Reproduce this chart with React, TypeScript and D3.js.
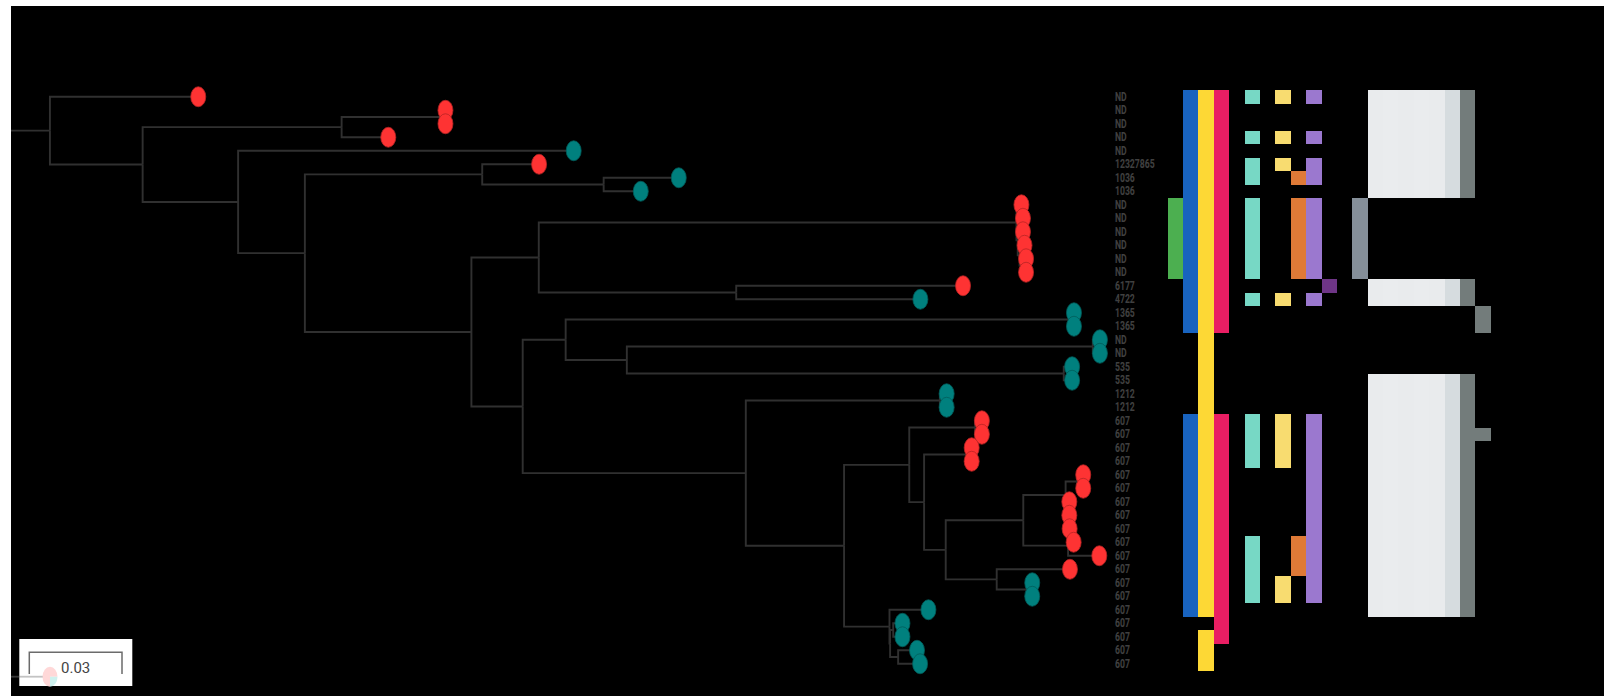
import React, { useMemo } from "react";
import * as d3 from "d3";

// Phylogeny with branch lengths (substitutions per site); leaves t0..t42 are row indices.
const newick =
  "(t0:0.0480,(((t1:0.0018,t2:0.0018):0.0318,t3:0.0151):0.0644," +
  "(t4:0.1086,((t5:0.0184,(t6:0.0243,t7:0.0120):0.0393):0.0574," +
  "(((t8:0.0016,((t9:0.0014,t10:0.0014):0.0003,(t11:0.0016,(t12:0.0015,t13:0.0015):0.0006):0.0006):0.0004):0.1546," +
  "(t14:0.0734,t15:0.0596):0.0639):0.0218," +
  "(((t16:0.0013,t17:0.0013):0.1632,((t18:0.0023,t19:0.0023):0.1508,(t20:0.0027,t21:0.0027):0.1414):0.0198):0.0139," +
  "((t22:0.0022,t23:0.0022):0.0628," +
  "(((t24:0.0022,t25:0.0022):0.0213,((t26:0.0016,t27:0.0016):0.0138," +
  "((((t28:0.0020,t29:0.0020):0.0037,(t30:0.0009,t31:0.0009):0.0003):0.0137,((t32:0.0003,t33:0.0016):0.0002,t34:0.0101):0.0145):0.0251," +
  "(t35:0.0237,(t36:0.0018,t37:0.0018):0.0097):0.0165):0.0070):0.0048):0.0211," +
  "(t38:0.0126,((t39:0.0030,t40:0.0030):0.0010,(t41:0.0061,t42:0.0071):0.0026):0.0002):0.0147):0.0318):0.0722):0.0166):0.0539):0.0216):0.0309):0.0300):0.0126;";

// Tip labels, top to bottom
const tipLabels = [
  "ND", "ND", "ND", "ND", "ND", "12327865", "1036", "1036",
  "ND", "ND", "ND", "ND", "ND", "ND", "6177", "4722", "1365", "1365",
  "ND", "ND", "535", "535", "1212", "1212",
  "607", "607", "607", "607", "607", "607", "607", "607", "607", "607",
  "607", "607", "607", "607", "607", "607", "607", "607", "607",
];

// Tip group (0 = red group, 1 = teal group)
const tipGroup = [
  0, 0, 0, 0, 1, 0, 1, 1,
  0, 0, 0, 0, 0, 0, 0, 1, 1, 1,
  1, 1, 1, 1, 1, 1,
  0, 0, 0, 0, 0, 0, 0, 0, 0, 0,
  0, 0, 1, 1, 1, 1, 1, 1, 1,
];

// Heatmap columns and the rows where each trait is present
const heatColumns = [
  "c0", "c1", "c2", "c3", "c4", "c5", "c6", "c7", "c8", "c9", "c10",
  "c11", "c12", "c13", "c14", "c15", "c16", "c17", "c18", "c19", "c20",
];
const heatPresence = [
  "8-13",
  "0-17,24-38",
  "0-38,40-42",
  "0-17,24-40",
  "",
  "0,3,5-6,8-13,15,24-27,33-37",
  "",
  "0,3,5,15,24-27,36-37",
  "6,8-13,33-35",
  "0,3,5-6,8-13,15,24-37",
  "14",
  "",
  "8-13",
  "0-7,14-15,21-38",
  "0-7,14-15,21-38",
  "0-7,14-15,21-38",
  "0-7,14-15,21-38",
  "0-7,14-15,21-38",
  "0-7,14-15,21-38",
  "0-7,14-15,21-38",
  "16-17,25",
];
const heatColors = [
  "#4caf50", "#1863bf", "#fdd835", "#e91e63", "#000000", "#77d8c5", "#000000",
  "#f8dc70", "#df7a37", "#9b78cf", "#6e3586", "#000000", "#858f99",
  "#e9ebed", "#eaecee", "#e9ebed", "#eaecee", "#e9ebed", "#d6dcdf", "#737c7b", "#737c7b",
];

const groupColors = ["#fe3333", "#00807e"];
const scaleBarValue = 0.03;

type TreeNode = { name: string; length: number; children: TreeNode[] };

function parseNewick(src: string): TreeNode {
  const s = src.replace(/\s+/g, "");
  let i = 0;
  const node = (): TreeNode => {
    const n: TreeNode = { name: "", length: 0, children: [] };
    if (s[i] === "(") {
      i++;
      n.children.push(node());
      while (s[i] === ",") {
        i++;
        n.children.push(node());
      }
      i++;
    }
    let name = "";
    while (i < s.length && !",():;".includes(s[i])) name += s[i++];
    n.name = name;
    if (s[i] === ":") {
      i++;
      let num = "";
      while (i < s.length && !",();".includes(s[i])) num += s[i++];
      n.length = +num;
    }
    return n;
  };
  return node();
}

function parseRows(spec: string): Set<number> {
  const out = new Set<number>();
  spec.split(",").filter(Boolean).forEach((part) => {
    const [a, b] = part.split("-").map(Number);
    for (let r = a; r <= (b ?? a); r++) out.add(r);
  });
  return out;
}

const W = 1604;
const H = 696;

export default function App() {
  const nRows = tipLabels.length;

  const xScale = d3.scaleLinear().domain([0, scaleBarValue]).range([11, 11 + 92.7]);
  const yScale = d3.scaleLinear().domain([0, nRows - 1]).range([96.75, 96.75 + (nRows - 1) * 13.5]);
  const rowBand = d3.scaleBand<number>().domain(d3.range(nRows)).range([90, 90 + nRows * 13.5]);
  const colBand = d3.scaleBand<string>().domain(heatColumns).range([1167.7, 1490.7]);

  const { links, leaves, rootEdge } = useMemo(() => {
    const root = d3.hierarchy<TreeNode>(parseNewick(newick), (d) => (d.children.length ? d.children : null));
    const dist = new Map<any, number>();
    root.each((n) => {
      dist.set(n, (n.parent ? dist.get(n.parent)! : 0) + n.data.length);
    });
    const yPos = new Map<any, number>();
    root.eachAfter((n) => {
      if (!n.children) yPos.set(n, +n.data.name.slice(1));
      else yPos.set(n, (yPos.get(n.children[0])! + yPos.get(n.children[n.children.length - 1])!) / 2);
    });
    const pt = (n: any) => ({ x: xScale(dist.get(n)!), y: yScale(yPos.get(n)!) });
    const links = root.descendants().filter((n) => n.parent).map((n) => {
      const p = pt(n.parent);
      const c = pt(n);
      return `M${p.x},${p.y}V${c.y}H${c.x}`;
    });
    const r = pt(root);
    const rootEdge = `M${xScale(0)},${r.y}H${r.x}`;
    const leaves = root.leaves().map((n) => {
      const row = +n.data.name.slice(1);
      return { row, ...pt(n) };
    }).sort((a, b) => a.row - b.row);
    return { links, leaves, rootEdge };
  }, []);

  const cells: { key: string; x: number; y: number; w: number; h: number; fill: string }[] = [];
  heatColumns.forEach((col, ci) => {
    parseRows(heatPresence[ci]).forEach((r) => {
      cells.push({
        key: `${col}-${r}`,
        x: colBand(col)!,
        y: rowBand(r)!,
        w: colBand.bandwidth(),
        h: rowBand.bandwidth(),
        fill: heatColors[ci],
      });
    });
  });

  const barX0 = 29.3;
  const barX1 = barX0 + (xScale(scaleBarValue) - xScale(0));

  const legendArc = d3.arc<any>().innerRadius(0).outerRadius(10);

  return (
    <svg
      width={W}
      height={H}
      style={{ position: "absolute", left: 0, top: 0, display: "block" }}
    >
      <rect x={0} y={0} width={W} height={H} fill="#ffffff" />
      <rect x={11} y={6} width={W - 11} height={H - 6} fill="#000000" />

      {/* tree */}
      <g fill="none" stroke="#303030" strokeWidth={1.9}>
        <path d={rootEdge} />
        {links.map((d, i) => (
          <path key={i} d={d} />
        ))}
      </g>

      {/* tip markers */}
      <g>
        {leaves.map((l) => {
          const c = groupColors[tipGroup[l.row]];
          return (
            <ellipse
              key={l.row}
              cx={l.x}
              cy={l.y}
              rx={7.5}
              ry={10}
              fill={c}
              stroke={d3.color(c)!.darker(0.9).formatHex()}
              strokeWidth={0.8}
            />
          );
        })}
      </g>

      {/* tip labels */}
      <g fontFamily="Roboto, 'Liberation Sans', sans-serif" fontSize={12} fontWeight={700} fill="#404040">
        {tipLabels.map((t, i) => (
          <text key={i} transform={`translate(1115,${yScale(i) + 4}) scale(0.72,1)`}>
            {t}
          </text>
        ))}
      </g>

      {/* heatmap */}
      <g shapeRendering="crispEdges">
        {cells.map((c) => (
          <rect
            key={c.key}
            x={c.x}
            y={c.y}
            width={c.w}
            height={c.h}
            fill={c.fill}
          />
        ))}
      </g>

      {/* scale bar */}
      <rect x={19.3} y={639} width={113} height={47} fill="#ffffff" />
      <path d={`M${barX0},674V652.3H${barX1}V674`} fill="none" stroke="#6b6b6b" strokeWidth={1.5} />
      <text
        x={(barX0 + barX1) / 2}
        y={672.5}
        textAnchor="middle"
        fontFamily="Roboto, 'Liberation Sans', sans-serif"
        fontSize={15}
        fill="#444444"
      >
        {scaleBarValue}
      </text>
      <line x1={11} x2={43} y1={676.7} y2={676.7} stroke="#7a7a7a" strokeOpacity={0.45} strokeWidth={1.8} />
      <g transform="translate(50,676.7) scale(0.75,1)" opacity={0.85}>
        <path d={legendArc({ startAngle: Math.PI, endAngle: Math.PI * 2.5 })!} fill="#ffd2d2" />
        <path d={legendArc({ startAngle: Math.PI / 2, endAngle: Math.PI })!} fill="#c6efec" />
      </g>
    </svg>
  );
}
